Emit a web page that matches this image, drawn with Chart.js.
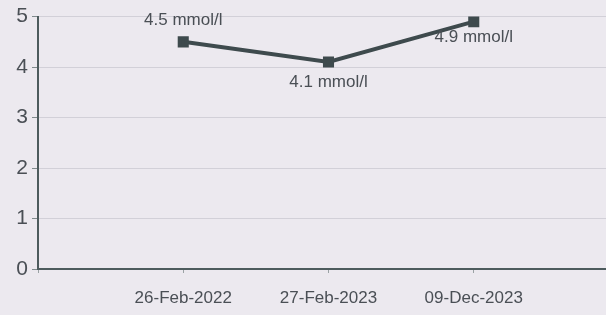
<!DOCTYPE html>
<html>
<head>
<meta charset="utf-8">
<script src="https://cdn.jsdelivr.net/npm/chart.js@4"></script>
<style>
html,body{margin:0;padding:0;background:#ece9ef;overflow:hidden;}
#wrap{width:634px;height:315px;position:relative;}
</style>
</head>
<body>
<div id="wrap"><canvas id="c" width="634" height="315"></canvas></div>
<script>
const categories = ['', '26-Feb-2022', '27-Feb-2023', '09-Dec-2023', ''];
const values = [null, 4.5, 4.1, 4.9, null];
const pointLabels = [null, '4.5 mmol/l', '4.1 mmol/l', '4.9 mmol/l', null];
const labelOffsets = [null, -22, 20, 16, null];
const yTicks = [0, 1, 2, 3, 4, 5];

const textColor = '#4a4f55';
const axisColor = '#4d5b5d';

const labelPlugin = {
  id: 'pointLabels',
  afterDatasetsDraw(chart) {
    const ctx = chart.ctx;
    const meta = chart.getDatasetMeta(0);
    ctx.save();
    ctx.font = '17px "Liberation Sans", Arial, sans-serif';
    ctx.fillStyle = textColor;
    ctx.textAlign = 'center';
    ctx.textBaseline = 'middle';
    meta.data.forEach((pt, i) => {
      if (!pointLabels[i]) return;
      ctx.fillText(pointLabels[i], pt.x, pt.y + labelOffsets[i]);
    });
    ctx.restore();
  }
};

new Chart(document.getElementById('c'), {
  type: 'line',
  data: {
    labels: categories,
    datasets: [{
      data: values,
      borderColor: '#3e4a4d',
      backgroundColor: '#3e4a4d',
      borderWidth: 4,
      pointStyle: 'rect',
      pointRadius: 5,
      pointHoverRadius: 5,
      tension: 0,
      spanGaps: false
    }]
  },
  options: {
    responsive: false,
    animation: false,
    layout: { padding: { top: 10, right: 0, left: 0, bottom: 0 } },
    plugins: { legend: { display: false }, tooltip: { enabled: false } },
    scales: {
      x: {
        offset: false,
        afterFit(s) { s.height = 46; },
        grid: { display: true, drawOnChartArea: false, drawTicks: true, tickLength: 4, tickColor: '#9aa2a4' },
        border: { color: axisColor, width: 2 },
        ticks: {
          color: textColor,
          font: { size: 17, family: '"Liberation Sans", Arial, sans-serif' },
          maxRotation: 0, autoSkip: false, padding: 15
        }
      },
      y: {
        min: 0, max: 5,
        afterFit(s) { s.width = 38; },
        afterBuildTicks(s) { s.ticks = yTicks.map(v => ({ value: v })); },
        grid: { color: 'rgba(190,188,196,0.55)', lineWidth: 1, drawTicks: true, tickLength: 6, tickColor: '#7f8a8c' },
        border: { color: axisColor, width: 2 },
        ticks: {
          color: textColor,
          font: { size: 21, family: '"Liberation Sans", Arial, sans-serif' },
          padding: 4
        }
      }
    }
  },
  plugins: [labelPlugin]
});
</script>
</body>
</html>
